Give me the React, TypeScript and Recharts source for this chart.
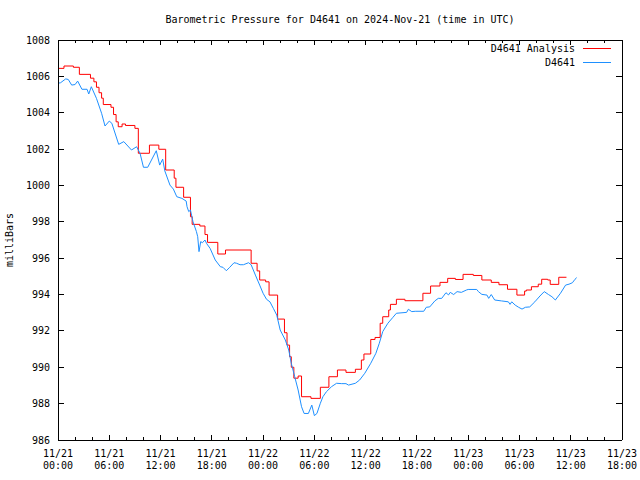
import React from "react";
import { LineChart, Line, XAxis, YAxis, ReferenceLine } from "recharts";

// hours since 11/21 00:00 UTC
const analysisHours = [
  0, 0.7, 1.8, 2.5, 3.8, 4.2, 4.5, 4.8, 5.1, 5.3, 6.2, 6.5, 6.8, 7.05, 7.5, 7.9, 9.0, 9.4,
  10.7, 11.8, 12.6, 13.6, 13.8, 14.7, 15.5, 15.7, 16.6, 17.2, 17.5, 18.7, 19.6, 22.6, 23.3,
  23.6, 24.3, 24.7, 25.7, 26.5, 26.8, 27.1, 27.3, 27.6, 28.1, 28.5, 29.6, 30.7, 31.7, 32.7,
  33.7, 34.8, 35.5, 35.8, 36.6, 37.1, 37.7, 38.0, 38.7, 38.9, 39.6, 40.6, 42.7, 43.6, 44.7,
  45.6, 46.5, 47.4, 48.6, 49.6, 50.7, 51.6, 52.6, 53.7, 54.6, 54.8, 55.4, 56.2, 56.6, 57.3,
  57.6, 58.6, 59.5,
];
const analysisMb = [
  1006.44, 1006.57, 1006.5, 1006.11, 1005.9, 1005.7, 1005.4, 1005.1, 1004.8, 1004.45, 1004.3,
  1003.9, 1003.5, 1003.23, 1003.38, 1003.3, 1003.14, 1001.77, 1002.22, 1001.99, 1000.85,
  1000.4, 999.9, 999.35, 998.28, 997.86, 997.77, 997.3, 996.87, 996.23, 996.45, 995.72, 995.3,
  994.8, 994.7, 993.97, 992.65, 991.9, 991.22, 990.58, 990.0, 989.4, 989.52, 988.38, 988.29,
  988.9, 989.48, 989.85, 989.72, 989.89, 990.4, 990.73, 991.53, 991.64, 992.42, 992.78,
  993.15, 993.46, 993.74, 993.66, 994.07, 994.47, 994.67, 994.89, 994.83, 995.11, 995.05,
  994.8, 994.67, 994.54, 994.29, 993.97, 994.19, 994.25, 994.43, 994.57, 994.84, 994.8,
  994.56, 994.95, 994.95,
];

const sensorHours = [
  0, 0.3, 0.9, 1.2, 1.6, 2.0, 2.3, 2.8, 3.4, 3.6, 3.9, 4.5, 5.1, 5.5, 6.0, 6.3, 7.1, 7.7, 8.6,
  9.2, 9.6, 10.0, 10.5, 11.5, 11.9, 12.25, 12.5, 13.1, 13.5, 13.9, 14.5, 15.0, 15.1, 15.3,
  15.5, 15.8, 16.2, 16.35, 16.5, 16.7, 16.9, 17.2, 17.4, 17.8, 18.4, 19.0, 19.3, 19.7, 20.1,
  20.6, 20.9, 21.3, 21.7, 22.3, 22.6, 23.1, 23.6, 24.0, 24.4, 24.8, 25.2, 25.6, 26.0, 26.6,
  27.0, 27.3, 27.7, 28.1, 28.5, 28.8, 29.3, 29.7, 30.0, 30.3, 30.7, 31.0, 31.4, 32.0, 32.6,
  33.2, 33.7, 34.0, 34.8, 35.3, 35.9, 36.6, 37.2, 37.6, 38.0, 38.6, 39.2, 39.6, 40.8, 41.0,
  41.4, 41.8, 42.8, 43.1, 43.5, 44.1, 44.5, 44.9, 45.4, 45.7, 45.9, 46.3, 46.7, 47.2, 47.8,
  48.0, 49.0, 49.2, 49.6, 50.2, 50.4, 50.7, 51.1, 51.9, 52.7, 52.9, 53.1, 53.5, 53.9, 54.3,
  54.7, 55.2, 55.8, 56.4, 56.9, 57.4, 57.8, 58.2, 58.8, 59.4, 59.8, 60.2, 60.5, 60.7,
];
const sensorMb = [
  1005.62, 1005.65, 1005.86, 1005.83, 1005.52, 1005.55, 1005.74, 1005.29, 1005.29, 1005.03,
  1005.43, 1004.79, 1003.97, 1003.27, 1003.54, 1003.42, 1002.26, 1002.41, 1001.95, 1002.13,
  1001.77, 1001.0, 1001.0, 1001.91, 1001.12, 1001.45, 1000.8, 1000.02, 999.8, 999.38, 999.29,
  999.14, 998.83, 998.56, 998.65, 998.0, 997.46, 997.18, 996.36, 996.91, 996.85, 997.0, 996.8,
  996.54, 995.9, 995.53, 995.5, 995.31, 995.5, 995.75, 995.72, 995.64, 995.64, 995.75, 995.64,
  995.07, 994.52, 994.07, 993.74, 993.6, 993.24, 992.87, 992.05, 991.5, 990.95, 990.22,
  989.48, 988.75, 987.83, 987.46, 987.46, 987.92, 987.34, 987.46, 988.02, 988.38, 988.65,
  988.93, 989.12, 989.1, 989.1, 989.02, 989.12, 989.3, 989.67, 990.22, 990.77, 991.32,
  991.96, 992.42, 992.75, 992.97, 993.02, 993.19, 993.06, 993.08, 993.08, 993.3, 993.32,
  993.65, 993.79, 993.79, 994.1, 993.98, 994.12, 994.0, 994.16, 994.12, 994.25, 994.28,
  994.28, 994.16, 994.01, 993.97, 993.79, 994.0, 993.7, 993.65, 993.6, 993.46, 993.6, 993.42,
  993.3, 993.2, 993.3, 993.32, 993.6, 993.92, 994.16, 994.0, 993.88, 993.7, 994.07, 994.52,
  994.57, 994.65, 994.84, 994.93,
];

const xTicks = [0, 6, 12, 18, 24, 30, 36, 42, 48, 54, 60, 66];
const xMinorTicks = [2, 4, 8, 10, 14, 16, 20, 22, 26, 28, 32, 34, 38, 40, 44, 46, 50, 52, 56, 58, 62, 64];
const xTickDates = ["11/21", "11/21", "11/21", "11/21", "11/22", "11/22", "11/22", "11/22", "11/23", "11/23", "11/23", "11/23"];
const xTickTimes = ["00:00", "06:00", "12:00", "18:00", "00:00", "06:00", "12:00", "18:00", "00:00", "06:00", "12:00", "18:00"];
const yTicks = [986, 988, 990, 992, 994, 996, 998, 1000, 1002, 1004, 1006, 1008];

const analysisData = analysisHours.map((h, i) => ({ h, mb: analysisMb[i] }));
const sensorData = sensorHours.map((h, i) => ({ h, mb: sensorMb[i] }));

const FONT = "'DejaVu Sans Mono', 'Liberation Mono', monospace";
const RED = "#ff0000";
const BLUE = "#1e90ff";

// tick lengths in data units (plot is 564px x 400px for 66h x 22mb)
const PX_H = 66 / 564;
const PX_MB = 22 / 400;

const TimeTick = (props: any) => {
  const { x, y, payload } = props;
  const i = xTicks.indexOf(payload.value);
  return (
    <text x={x} y={y} textAnchor="middle" fontFamily={FONT} fontSize={10} fill="#000">
      <tspan x={x} dy={9}>{xTickDates[i]}</tspan>
      <tspan x={x} dy={12}>{xTickTimes[i]}</tspan>
    </text>
  );
};

export default function App() {
  const tick = { stroke: "#000", strokeWidth: 1, shapeRendering: "crispEdges" } as any;
  return (
    <div style={{ position: "absolute", left: 0, top: 0, width: 640, height: 480, background: "#fff" }}>
      <LineChart width={640} height={480} margin={{ top: 40, right: 18, bottom: 0, left: 0 }}>
        <XAxis
          dataKey="h"
          type="number"
          domain={[0, 66]}
          ticks={xTicks}
          tick={<TimeTick />}
          tickLine={false}
          height={40}
          axisLine={{ stroke: "#000", shapeRendering: "crispEdges" }}
          allowDataOverflow
        />
        <YAxis
          type="number"
          domain={[986, 1008]}
          ticks={yTicks}
          width={58}
          tickLine={false}
          tick={{ fontSize: 10, fontFamily: FONT, fill: "#000" }}
          axisLine={{ stroke: "#000", shapeRendering: "crispEdges" }}
          allowDataOverflow
        />
        <ReferenceLine y={1008} {...tick} />
        <ReferenceLine x={66} {...tick} />
        {xTicks.map((t) => (
          <ReferenceLine key={"xb" + t} segment={[{ x: t, y: 986 }, { x: t, y: 986 + 5 * PX_MB }]} {...tick} />
        ))}
        {xTicks.map((t) => (
          <ReferenceLine key={"xt" + t} segment={[{ x: t, y: 1008 }, { x: t, y: 1008 - 5 * PX_MB }]} {...tick} />
        ))}
        {xMinorTicks.map((t) => (
          <ReferenceLine key={"mb" + t} segment={[{ x: t, y: 986 }, { x: t, y: 986 + 3 * PX_MB }]} {...tick} />
        ))}
        {xMinorTicks.map((t) => (
          <ReferenceLine key={"mt" + t} segment={[{ x: t, y: 1008 }, { x: t, y: 1008 - 3 * PX_MB }]} {...tick} />
        ))}
        {yTicks.map((v) => (
          <ReferenceLine key={"yl" + v} segment={[{ x: 0, y: v }, { x: 6 * PX_H, y: v }]} {...tick} />
        ))}
        {yTicks.map((v) => (
          <ReferenceLine key={"yr" + v} segment={[{ x: 66, y: v }, { x: 66 - 6 * PX_H, y: v }]} {...tick} />
        ))}
        <Line
          data={analysisData}
          dataKey="mb"
          type="stepAfter"
          stroke={RED}
          strokeWidth={1}
          dot={false}
          isAnimationActive={false}
        />
        <Line
          data={sensorData}
          dataKey="mb"
          type="linear"
          stroke={BLUE}
          strokeWidth={1}
          dot={false}
          isAnimationActive={false}
        />
      </LineChart>
      <svg
        width={640}
        height={480}
        style={{ position: "absolute", left: 0, top: 0, pointerEvents: "none" }}
        fontFamily={FONT}
        fontSize={10}
      >
        <text x={340} y={23} textAnchor="middle" fill="#000">
          Barometric Pressure for D4641 on 2024-Nov-21 (time in UTC)
        </text>
        <text x={13} y={240} textAnchor="middle" fill="#000" transform="rotate(-90 13 240)">
          milliBars
        </text>
        <text x={575} y={52} textAnchor="end" fill="#000">D4641 Analysis</text>
        <line x1={583} x2={611} y1={48.5} y2={48.5} stroke={RED} />
        <text x={575} y={66} textAnchor="end" fill="#000">D4641</text>
        <line x1={583} x2={611} y1={62.5} y2={62.5} stroke={BLUE} />
      </svg>
    </div>
  );
}
